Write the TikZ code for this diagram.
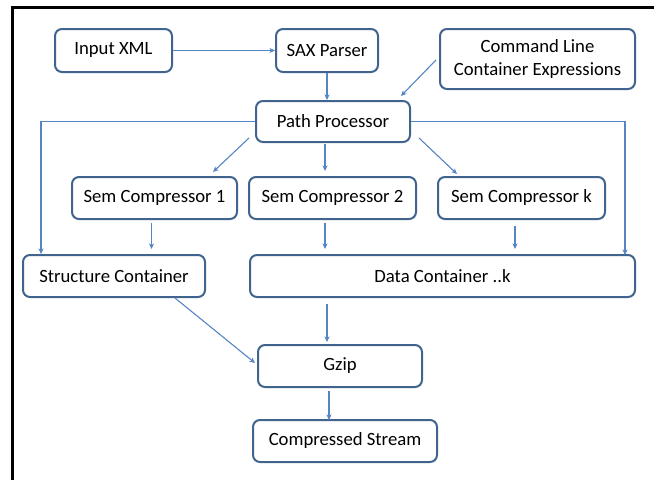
\documentclass[tikz,border=0pt]{standalone}
\usepackage{fontspec}
\setmainfont{Carlito}
\usetikzlibrary{arrows.meta,calc}
\definecolor{boxc}{HTML}{41648E}
\definecolor{linec}{HTML}{5585C4}
\begin{document}
\begin{tikzpicture}[x=1pt,y=-1pt,
  box/.style={draw=boxc,line width=2pt,rounded corners=7pt,fill=white,inner sep=0pt,
    align=center,font=\fontsize{18.7}{22.5}\selectfont,text=black},
  arr/.style={draw=linec,line width=1.1pt,-{Stealth[length=5.5pt,width=5pt,inset=1.5pt]}}]
\useasboundingbox (0,0) rectangle (654,480);
% outer frame (top and left)
\draw[line width=3pt,black] (12,480) -- (12,7) -- (654,7);
% nodes
\node[box,minimum width=117pt,minimum height=43pt] (in) at (113.5,50.5) {Input XML};
\node[box,minimum width=102pt,minimum height=43pt] (sax) at (327,50.5) {SAX Parser};
\node[box,minimum width=195pt,minimum height=60pt] (cl) at (537.5,59) {Command Line\\Container Expressions};
\node[box,minimum width=154pt,minimum height=41pt] (pp) at (333,121.5) {Path Processor};
\node[box,minimum width=165pt,minimum height=42pt] (s1) at (154.5,198) {Sem Compressor 1};
\node[box,minimum width=167pt,minimum height=42pt] (s2) at (332.5,198) {Sem Compressor 2};
\node[box,minimum width=167pt,minimum height=42pt] (sk) at (521.5,198) {Sem Compressor k};
\node[box,minimum width=182pt,minimum height=42pt] (st) at (114,276) {Structure Container};
\node[box,minimum width=385pt,minimum height=42pt] (dc) at (442.5,276) {Data Container ..k};
\node[box,minimum width=164pt,minimum height=42pt] (gz) at (340,366) {Gzip};
\node[box,minimum width=184pt,minimum height=42pt] (cs) at (345,441) {Compressed Stream};
% connectors
\draw[arr] (in.east) -- (sax.west);
\draw[arr] (sax.south) -- (sax.south |- pp.north);
\draw[arr] ($(cl.west)+(-3,1)$) -- ($(pp.north east)+(-10,-4)$);
\draw[arr] (pp.west) -| ($(st.north west)+(19,0)$);
\draw[arr] (pp.east) -| ($(dc.north east)+(-11,1)$);
\draw[arr] ($(pp.south west)+(-6,-5)$) -- ($(s1.north)+(58.5,-4)$);
\draw[arr] ($(pp.south)+(-8,1)$) -- ($(s2.north)+(-7.5,-5)$);
\draw[arr] ($(pp.south east)+(8,-5)$) -- ($(sk.north west)+(20,-2)$);
\draw[arr] ($(s1.south)+(-3,3)$) -- ($(s1.south |- st.north)+(-3,-5)$);
\draw[arr] ($(s2.south)+(-7.5,3)$) -- ($(s2.south |- dc.north)+(-7.5,-5)$);
\draw[arr] ($(sk.south)+(-6.5,6)$) -- ($(sk.south |- dc.north)+(-6.5,-5)$);
\draw[arr] ($(st.south)+(61,0)$) -- ($(gz.west)+(-2,-3)$);
\draw[arr] ($(dc.south)+(-115.5,6)$) -- ($(gz.north)+(-13,-2)$);
\draw[arr] ($(gz.south)+(-11,3)$) -- ($(cs.north)+(-16,1)$);
\end{tikzpicture}
\end{document}
